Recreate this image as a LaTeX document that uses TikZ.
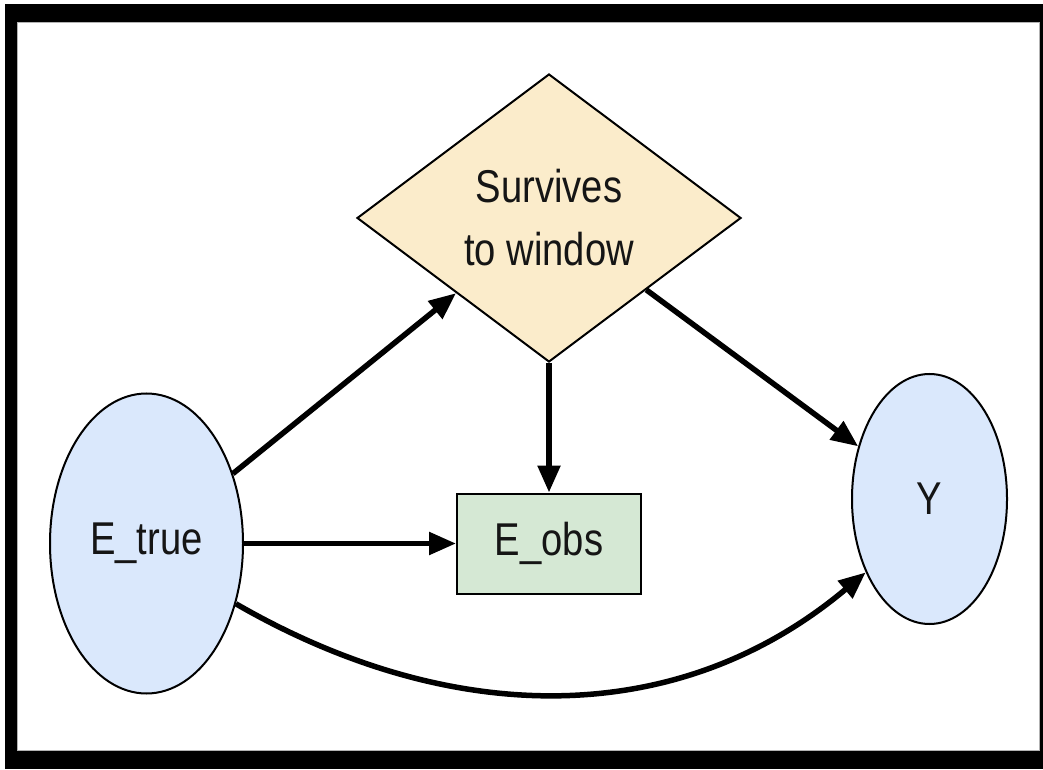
\documentclass[tikz,border=0pt]{standalone}
\usepackage{fontspec}
\setmainfont[FakeStretch=0.83]{Liberation Sans}
\usetikzlibrary{shapes.geometric,arrows.meta}
\definecolor{nodeblue}{HTML}{DAE8FC}
\definecolor{nodetan}{HTML}{FBECCB}
\definecolor{nodegreen}{HTML}{D5E8D4}
\definecolor{inktext}{HTML}{151515}

\begin{document}
\begin{tikzpicture}[x=1pt,y=1pt,
  base/.style={draw=black, line width=2pt, inner sep=0pt, text=inktext,
               font=\fontsize{46}{63}\selectfont, align=center},
  oval/.style={base, ellipse, fill=nodeblue},
  gate/.style={base, diamond, fill=nodetan},
  boxnode/.style={base, rectangle, fill=nodegreen},
  link/.style={line width=5.5pt, -{Triangle[length=27pt,width=22pt]}}]
  \useasboundingbox (0,0) rectangle (1043,769);
  % black frame around the white canvas
  \fill[black] (5,0) rectangle (1043,765);
  \fill[white] (17,18) rectangle (1040,747);
  \draw[gray!60, line width=1pt] (17.5,18.5) rectangle (1039.5,746.5);

  % nodes
  \node[oval, minimum width=193pt, minimum height=300pt] (Etrue) at (146.5,225.5) {E\_true};
  \node[gate, minimum width=384pt, minimum height=288pt] (surv) at (549,551) {Survives\\to window};
  \node[boxnode, minimum width=184pt, minimum height=100pt] (obs) at (549,225.5) {E\_obs};
  \node[oval, minimum width=155pt, minimum height=250pt] (yout) at (929.5,270) {Y};

  % connectors
  \draw[link] (Etrue) -- (surv);
  \draw[link] (surv) -- (obs);
  \draw[link] (Etrue) -- (obs);
  \draw[link] (surv) -- (yout);
  \draw[link] (Etrue.-34) to[out=-30, in=-140] (yout.229);
\end{tikzpicture}
\end{document}
